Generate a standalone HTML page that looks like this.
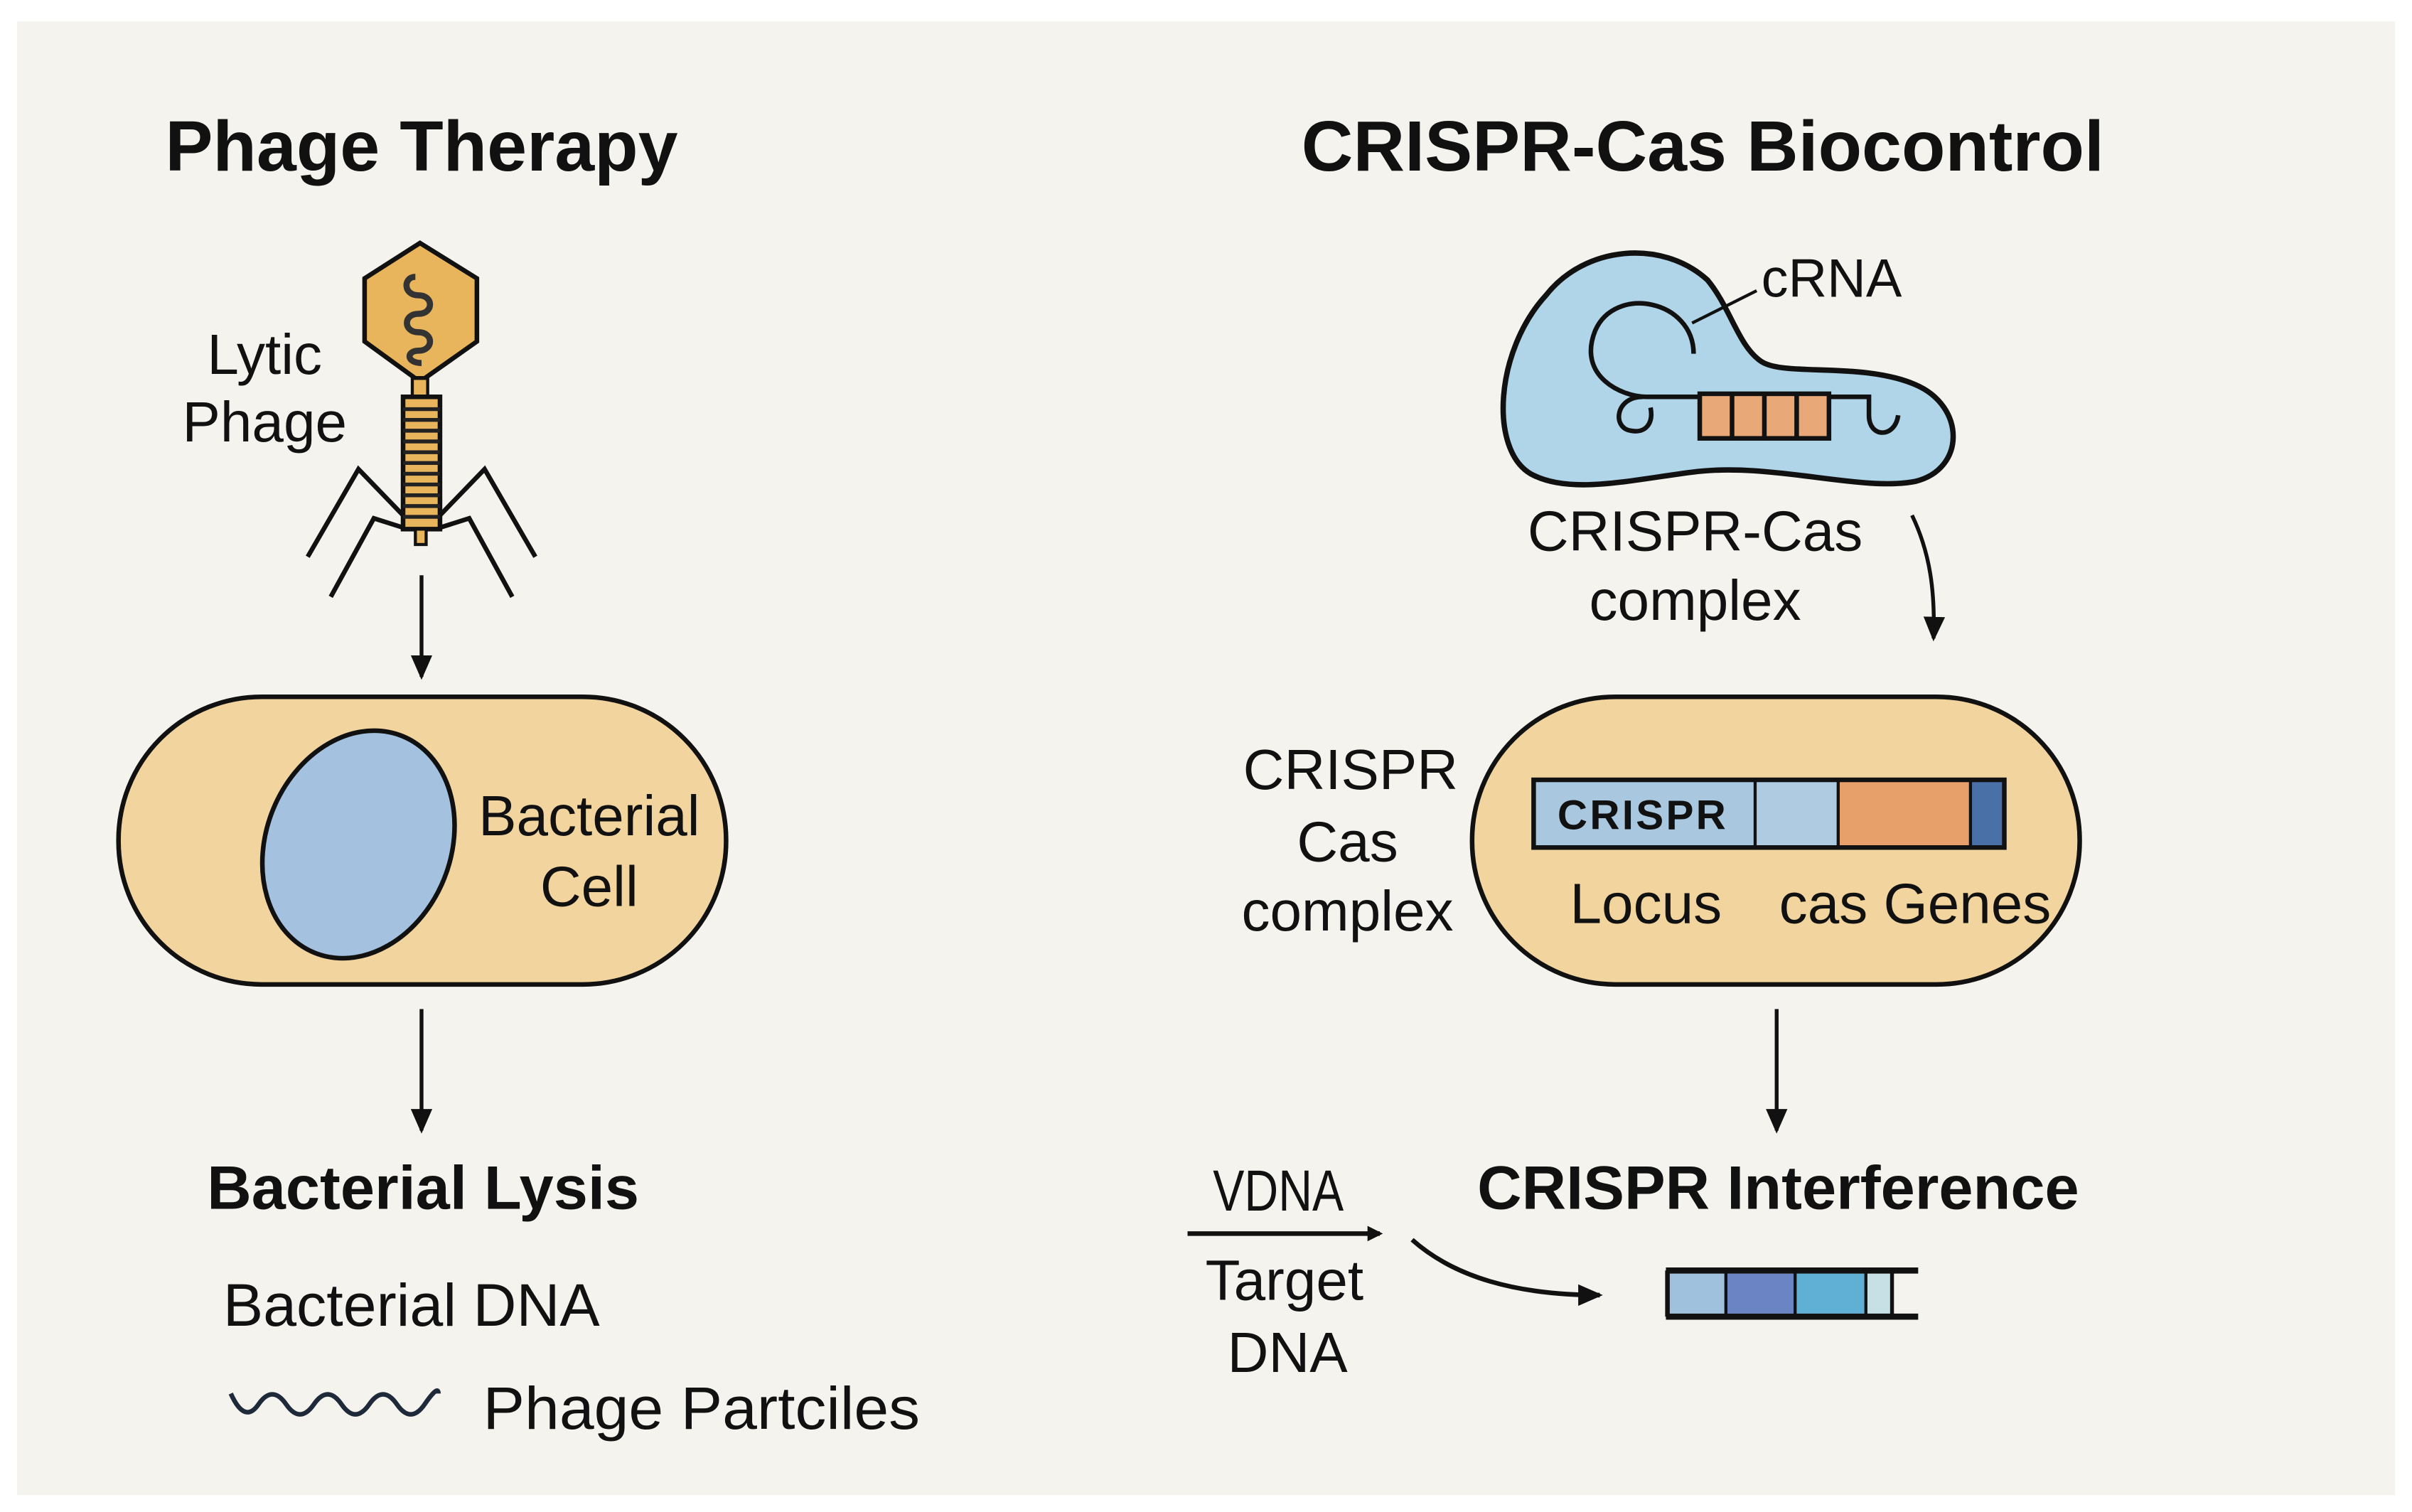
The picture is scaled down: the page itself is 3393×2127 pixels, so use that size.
<!DOCTYPE html>
<html><head><meta charset="utf-8"><style>
html,body{margin:0;padding:0;background:#fff}
svg{display:block}
text{font-family:"Liberation Sans",Arial,sans-serif;fill:#111}
.b{font-weight:bold}
</style></head><body>
<svg width="3393" height="2127" viewBox="0 0 1568 983" xmlns="http://www.w3.org/2000/svg">
<defs>
<marker id="ah" markerWidth="10" markerHeight="10" refX="8" refY="5" orient="auto" markerUnits="userSpaceOnUse"><path d="M0,0 L10,5 L0,10 Z" fill="#111"/></marker>
<marker id="ah2" markerWidth="16" markerHeight="16" refX="14" refY="8" orient="auto" markerUnits="userSpaceOnUse"><path d="M0,1 L16,8 L0,15 Z" fill="#111"/></marker>
</defs>
<rect width="1568" height="983" fill="#fff"/>
<rect x="11" y="14" width="1546" height="958" fill="#f5f3ee"/>

<text x="274" y="111" font-size="46.5" class="b" text-anchor="middle">Phage Therapy</text>
<text x="1107" y="111" font-size="46.5" class="b" text-anchor="middle">CRISPR-Cas Biocontrol</text>

<!-- phage -->
<g stroke="#111" stroke-width="3" fill="none">
<path d="M200,362 L233,305 L262,335 M215,388 L243,337 L262,343 M348,362 L315,305 L286,335 M333,388 L305,337 L286,343"/>
</g>
<polygon points="273,158 310,181 310,222 276,246 270,246 237,222 237,181" fill="#e8b55c" stroke="#111" stroke-width="3"/>
<rect x="268" y="246" width="10" height="12" fill="#e8b55c" stroke="#111" stroke-width="2"/>
<path d="M270,180 C262,180 262,192 272,192 C282,192 282,204 272,204 C262,204 262,216 272,216 C282,216 282,228 272,228 C264,228 264,236 274,236" stroke="#333" stroke-width="4" fill="none"/>
<rect x="262" y="258" width="24" height="86" fill="#e8b55c" stroke="#111" stroke-width="3"/>
<g stroke="#222" stroke-width="2.5">
<line x1="262" y1="266" x2="286" y2="266"/><line x1="262" y1="273" x2="286" y2="273"/><line x1="262" y1="280" x2="286" y2="280"/><line x1="262" y1="287" x2="286" y2="287"/><line x1="262" y1="294" x2="286" y2="294"/><line x1="262" y1="301" x2="286" y2="301"/><line x1="262" y1="308" x2="286" y2="308"/><line x1="262" y1="315" x2="286" y2="315"/><line x1="262" y1="322" x2="286" y2="322"/><line x1="262" y1="329" x2="286" y2="329"/><line x1="262" y1="336" x2="286" y2="336"/>
</g>
<rect x="270" y="344" width="7" height="10" fill="#e8b55c" stroke="#111" stroke-width="2"/>
<text x="172" y="243" font-size="37" text-anchor="middle">Lytic</text>
<text x="172" y="287" font-size="37" text-anchor="middle">Phage</text>

<line x1="274" y1="374" x2="274" y2="440" stroke="#111" stroke-width="2.5" marker-end="url(#ah2)"/>

<rect x="77" y="453" width="395" height="187" rx="93" fill="#f2d49e" stroke="#111" stroke-width="3"/>
<ellipse cx="233" cy="549" rx="60" ry="76" transform="rotate(22 233 549)" fill="#a4c2e0" stroke="#111" stroke-width="3"/>
<text x="383" y="543" font-size="37" text-anchor="middle">Bacterial</text>
<text x="383" y="589" font-size="37" text-anchor="middle">Cell</text>

<line x1="274" y1="656" x2="274" y2="735" stroke="#111" stroke-width="2.5" marker-end="url(#ah2)"/>
<text x="275" y="786" font-size="40" class="b" text-anchor="middle">Bacterial Lysis</text>
<text x="145" y="862" font-size="39">Bacterial DNA</text>
<path d="M150,906 Q159,926 168,913 T186,913 T204,913 T222,913 T240,913 T258,913 T276,913 T285,906" stroke="#1e2a3a" stroke-width="3" fill="none"/>
<text x="314" y="929" font-size="39" textLength="284" lengthAdjust="spacingAndGlyphs">Phage  Partciles</text>

<!-- CRISPR complex blob -->
<path d="M1005,192 C1030,160 1080,155 1110,182 C1125,200 1130,225 1145,235 C1160,245 1210,235 1245,250 C1278,264 1278,305 1245,313 C1210,320 1150,300 1100,307 C1060,312 1020,322 995,308 C968,292 972,228 1005,192 Z" fill="#b0d4e8" stroke="#111" stroke-width="3.5"/>
<path d="M1101,230 C1101,195 1050,185 1037,215 C1025,245 1055,258 1070,258 L1215,258 L1215,270 C1215,285 1232,285 1234,270" stroke="#111" stroke-width="3" fill="none"/>
<path d="M1068,258 C1050,258 1048,278 1060,280 C1070,282 1075,275 1073,265" stroke="#111" stroke-width="3" fill="none"/>
<rect x="1105" y="256" width="84" height="29" fill="#e8a878" stroke="#111" stroke-width="3"/>
<g stroke="#111" stroke-width="3"><line x1="1126" y1="256" x2="1126" y2="285"/><line x1="1147" y1="256" x2="1147" y2="285"/><line x1="1168" y1="256" x2="1168" y2="285"/></g>
<line x1="1100" y1="210" x2="1142" y2="189" stroke="#111" stroke-width="2"/>
<text x="1145" y="193" font-size="35">cRNA</text>
<text x="1102" y="358" font-size="37" text-anchor="middle">CRISPR-Cas</text>
<text x="1102" y="403" font-size="37" text-anchor="middle">complex</text>
<path d="M1243,335 C1255,360 1258,385 1257,415" stroke="#111" stroke-width="2.5" fill="none" marker-end="url(#ah2)"/>

<rect x="957" y="453" width="395" height="187" rx="93" fill="#f2d49e" stroke="#111" stroke-width="3"/>
<rect x="997" y="507" width="144" height="44" fill="#a9c8e0"/>
<rect x="1141" y="507" width="54" height="44" fill="#aecbe2"/>
<rect x="1195" y="507" width="86" height="44" fill="#e8a06a"/>
<rect x="1281" y="507" width="22" height="44" fill="#4a70a8"/>
<rect x="997" y="507" width="306" height="44" fill="none" stroke="#111" stroke-width="3"/>
<g stroke="#111" stroke-width="2"><line x1="1141" y1="507" x2="1141" y2="551"/><line x1="1195" y1="507" x2="1195" y2="551"/><line x1="1281" y1="507" x2="1281" y2="551"/></g>
<text x="1068" y="539" font-size="27" class="b" text-anchor="middle" fill="#1d2b44" letter-spacing="1.5">CRISPR</text>
<text x="1070" y="600" font-size="37" text-anchor="middle">Locus</text>
<text x="1245" y="600" font-size="37" text-anchor="middle">cas Genes</text>
<text x="878" y="513" font-size="37" text-anchor="middle">CRISPR</text>
<text x="876" y="560" font-size="37" text-anchor="middle">Cas</text>
<text x="876" y="605" font-size="37" text-anchor="middle">complex</text>

<line x1="1155" y1="656" x2="1155" y2="735" stroke="#111" stroke-width="2.5" marker-end="url(#ah2)"/>
<text x="1156" y="786" font-size="40" class="b" text-anchor="middle">CRISPR Interference</text>

<text x="831" y="787" font-size="36" text-anchor="middle" transform="translate(831 787) scale(0.85 1.05) translate(-831 -787)">VDNA</text>
<line x1="772" y1="802" x2="897" y2="802" stroke="#111" stroke-width="3" marker-end="url(#ah)"/>
<text x="835" y="845" font-size="37" text-anchor="middle">Target</text>
<text x="837" y="892" font-size="37" text-anchor="middle">DNA</text>
<path d="M918,806 C945,830 985,842 1040,842" stroke="#111" stroke-width="3" fill="none" marker-end="url(#ah2)"/>

<rect x="1084" y="828" width="38" height="26" fill="#9fc1dd"/>
<rect x="1122" y="828" width="45" height="26" fill="#6b85c4"/>
<rect x="1167" y="828" width="46" height="26" fill="#5fb0d4"/>
<rect x="1213" y="828" width="17" height="26" fill="#c6e0e6"/>
<g stroke="#111"><line x1="1083" y1="826" x2="1247" y2="826" stroke-width="4"/><line x1="1083" y1="856" x2="1247" y2="856" stroke-width="4"/>
<line x1="1084" y1="826" x2="1084" y2="856" stroke-width="3"/><line x1="1122" y1="826" x2="1122" y2="856" stroke-width="2"/><line x1="1167" y1="826" x2="1167" y2="856" stroke-width="2"/><line x1="1213" y1="826" x2="1213" y2="856" stroke-width="2"/><line x1="1230" y1="826" x2="1230" y2="856" stroke-width="2.5"/></g>
</svg>
</body></html>
